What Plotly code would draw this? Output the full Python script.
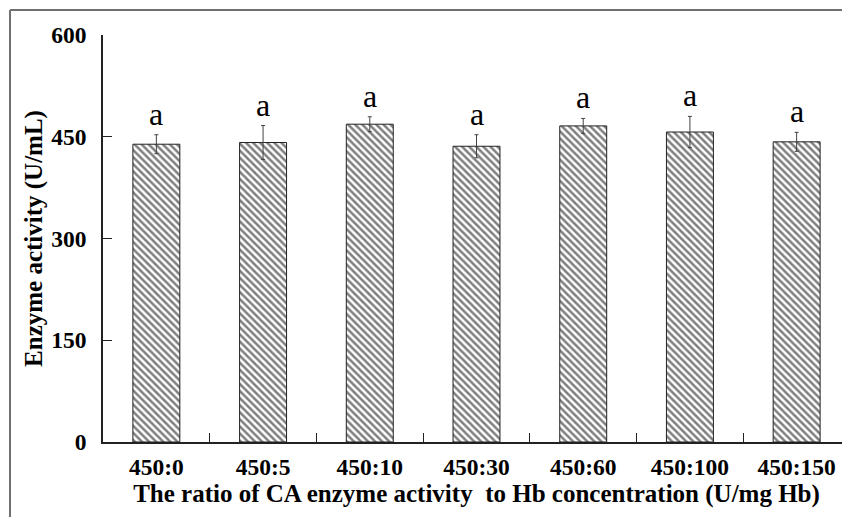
import plotly.graph_objects as go

categories = ["450:0", "450:5", "450:10", "450:30", "450:60", "450:100", "450:150"]
activity = [439, 441.5, 468.5, 436, 466, 457, 442.5]
errors = [14, 25, 11, 17, 11, 23, 14]
letters = ["a", "a", "a", "a", "a", "a", "a"]
y_ticks = [0, 150, 300, 450, 600]

# page has an 8px body margin; figure sized to fit the window
OFF = 8
W, H = 850 - OFF, 517 - OFF
ML, MT = 103 - OFF, 35 - OFF
pw = 850 - 103
ph = 441.7 - 35
MR = W - ML - pw
MB = H - MT - ph

fig = go.Figure()
fig.add_trace(go.Bar(
    x=categories, y=activity,
    marker=dict(color="white",
                line=dict(color="#222", width=1),
                pattern=dict(shape="\\", size=5, solidity=0.5,
                             fgcolor="black", bgcolor="white")),
    error_y=dict(type="data", array=errors, visible=True,
                 color="#444", thickness=1, width=2),
    width=0.44,
))

for c, v, e, t in zip(categories, activity, errors, letters):
    fig.add_annotation(x=c, y=v + e, text=t, showarrow=False,
                       yanchor="bottom", yshift=1,
                       font=dict(family="Liberation Serif", size=32, color="black"))

def px2paper_x(px):
    return (px - OFF - ML) / pw

def px2paper_y(py):
    return 1 - (py - OFF - MT) / ph

fig.add_shape(type="line", xref="paper", yref="paper",
              x0=px2paper_x(10), x1=px2paper_x(860),
              y0=px2paper_y(10), y1=px2paper_y(10),
              line=dict(color="#707070", width=2))
fig.add_shape(type="line", xref="paper", yref="paper",
              x0=px2paper_x(10), x1=px2paper_x(10),
              y0=px2paper_y(10), y1=px2paper_y(520),
              line=dict(color="#707070", width=2))

fig.update_layout(
    width=W, height=H,
    margin=dict(l=ML, r=MR, t=MT, b=MB, autoexpand=False),
    paper_bgcolor="white", plot_bgcolor="white",
    showlegend=False,
    font=dict(family="Liberation Serif", color="black"),
)
fig.update_xaxes(
    type="category", range=[-0.5, 6.5],
    showline=True, linecolor="#222", linewidth=1.5,
    ticks="inside", tickson="boundaries", ticklen=9, tickcolor="#222", tickwidth=1,
    tickfont=dict(family="Liberation Serif", size=23.5, color="black", weight="bold"),
    ticklabelstandoff=3,
    title=dict(text="The ratio of CA enzyme activity\u00a0 to Hb concentration (U/mg Hb)",
               font=dict(family="Liberation Serif", size=25, color="black", weight="bold"),
               standoff=2),
    showgrid=False, zeroline=False,
)
fig.update_yaxes(
    range=[0, 600], tickvals=y_ticks,
    showline=True, linecolor="#222", linewidth=1.5,
    ticks="inside", ticklen=9, tickcolor="#222", tickwidth=1,
    tickfont=dict(family="Liberation Serif", size=23.5, color="black", weight="bold"),
    ticklabelstandoff=10,
    title=dict(text="Enzyme activity (U/mL)",
               font=dict(family="Liberation Serif", size=25, color="black", weight="bold"),
               standoff=2),
    showgrid=False, zeroline=False,
)

fig.write_html("out.html")
